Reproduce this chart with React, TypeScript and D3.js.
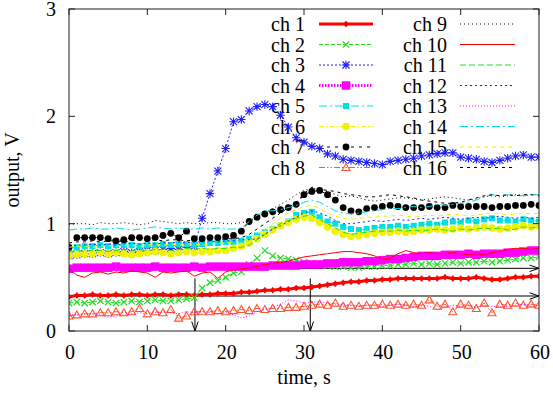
import React from 'react';
import * as d3 from 'd3';

// sampling grid (s)
const TIMES = d3.range(0, 61, 1);
const X_TICKS = [0, 10, 20, 30, 40, 50, 60];
const Y_TICKS = [0, 1, 2, 3];

const CH1 = [0.32,0.33,0.33,0.34,0.33,0.33,0.34,0.33,0.34,0.34,0.33,0.34,0.34,0.33,0.34,0.34,0.33,
  0.34,0.34,0.35,0.35,0.35,0.36,0.36,0.37,0.38,0.38,0.39,0.39,0.40,0.40,
  0.41,0.42,0.43,0.44,0.45,0.46,0.46,0.47,0.47,0.48,0.48,0.49,0.49,0.49,0.49,
  0.49,0.49,0.50,0.49,0.49,0.49,0.50,0.49,0.48,0.48,0.49,0.50,0.50,0.51,0.51];
const CH2 = [0.26,0.27,0.26,0.27,0.28,0.27,0.26,0.27,0.28,0.27,0.28,0.29,0.28,0.28,0.29,0.30,
  0.31,0.40,0.45,0.47,0.50,0.54,0.55,0.62,0.68,0.75,0.70,0.68,0.67,0.66,0.64,
  0.63,0.62,0.61,0.60,0.60,0.59,0.59,0.60,0.60,0.61,0.61,0.62,0.62,0.63,0.62,
  0.63,0.62,0.63,0.64,0.63,0.64,0.64,0.65,0.64,0.65,0.66,0.67,0.68,0.68,0.69];
const CH3 = [0.70,0.71,0.72,0.72,0.73,0.72,0.73,0.74,0.73,0.74,0.75,0.75,0.76,0.77,0.76,0.78,0.79,
  1.05,1.28,1.49,1.70,1.95,1.97,2.05,2.09,2.11,2.09,2.01,1.90,1.80,1.76,
  1.72,1.70,1.65,1.63,1.60,1.59,1.58,1.57,1.56,1.55,1.58,1.59,1.60,1.61,1.63,
  1.64,1.65,1.66,1.66,1.62,1.61,1.60,1.58,1.57,1.59,1.61,1.63,1.64,1.62,1.62];
const CH4 = [0.58,0.59,0.59,0.59,0.59,0.59,0.60,0.59,0.59,0.59,0.59,0.60,0.59,0.59,0.59,0.59,0.60,0.59,0.60,0.60,0.60,
  0.60,0.60,0.60,0.60,0.60,0.61,0.61,0.61,0.61,0.62,0.62,0.62,0.63,0.63,0.64,0.64,0.64,0.65,0.65,0.66,
  0.67,0.67,0.68,0.69,0.70,0.70,0.70,0.71,0.71,0.71,0.72,0.71,0.72,0.72,0.72,0.73,0.73,0.74,0.75,0.75];
const CH5 = [0.77,0.78,0.79,0.79,0.80,0.79,0.80,0.80,0.80,0.79,0.80,0.80,0.81,0.80,0.81,0.81,0.80,0.81,0.82,0.82,0.83,
  0.83,0.84,0.86,0.89,0.92,0.95,0.98,1.02,1.08,1.10,1.11,1.06,1.02,1.00,0.97,0.95,0.94,0.95,0.96,0.97,
  0.97,0.98,0.97,0.98,0.99,1.00,0.99,1.01,1.02,1.01,1.03,1.02,1.04,1.05,1.03,1.03,1.02,1.04,1.03,1.02];
const CH6 = [0.70,0.71,0.72,0.72,0.73,0.72,0.73,0.72,0.71,0.72,0.73,0.74,0.73,0.72,0.73,0.74,0.73,0.74,0.74,0.75,0.75,
  0.77,0.79,0.82,0.86,0.90,0.94,0.98,1.01,1.04,1.06,1.05,1.01,0.97,0.93,0.90,0.88,0.89,0.90,0.91,0.92,
  0.92,0.93,0.92,0.93,0.94,0.94,0.95,0.94,0.95,0.96,0.95,0.96,0.97,0.96,0.95,0.96,0.97,0.98,0.97,0.98];
const CH7 = [0.78,0.87,0.87,0.87,0.87,0.86,0.84,0.85,0.87,0.87,0.86,0.87,0.89,0.91,0.87,0.93,0.86,0.86,0.87,0.87,0.88,
  0.89,0.93,1.02,1.06,1.09,1.11,1.13,1.15,1.18,1.27,1.30,1.31,1.27,1.22,1.15,1.12,1.11,1.14,1.15,1.16,
  1.17,1.16,1.15,1.15,1.15,1.16,1.15,1.15,1.17,1.16,1.16,1.16,1.16,1.15,1.16,1.16,1.17,1.17,1.18,1.17];
const CH8 = [0.14,0.15,0.16,0.16,0.17,0.17,0.18,0.17,0.18,0.21,0.16,0.18,0.17,0.20,0.12,0.14,0.18,0.18,0.18,0.19,0.18,
  0.19,0.20,0.19,0.21,0.20,0.21,0.21,0.22,0.22,0.23,0.24,0.25,0.24,0.26,0.23,0.24,0.23,0.24,0.24,0.25,
  0.24,0.25,0.24,0.25,0.24,0.29,0.23,0.25,0.18,0.25,0.24,0.21,0.26,0.17,0.25,0.24,0.26,0.24,0.25,0.24];
const CH9 = [0.99,1.00,1.00,0.99,1.01,1.00,1.00,1.01,1.00,0.99,1.00,1.03,1.02,1.01,1.00,1.01,1.00,1.00,1.01,1.01,1.00,
  1.00,1.01,1.02,1.06,1.10,1.14,1.18,1.22,1.27,1.31,1.33,1.32,1.30,1.27,1.25,1.26,1.24,1.22,1.21,1.22,
  1.23,1.24,1.24,1.23,1.22,1.23,1.24,1.25,1.24,1.23,1.22,1.23,1.25,1.26,1.25,1.26,1.27,1.26,1.27,1.27];
const CH10 = [0.58,0.52,0.50,0.54,0.55,0.53,0.55,0.54,0.56,0.55,0.54,0.50,0.55,0.54,0.55,0.56,0.51,0.54,0.55,0.49,0.55,
  0.57,0.58,0.59,0.60,0.62,0.63,0.64,0.65,0.67,0.69,0.70,0.71,0.72,0.73,0.74,0.74,0.73,0.72,0.70,0.67,
  0.68,0.72,0.75,0.73,0.72,0.73,0.72,0.72,0.73,0.72,0.71,0.72,0.71,0.73,0.74,0.76,0.77,0.77,0.76,0.77];
const CH11 = [0.74,0.75,0.74,0.75,0.75,0.74,0.75,0.76,0.75,0.76,0.75,0.76,0.76,0.75,0.76,0.77,0.76,0.77,0.76,0.77,0.77,
  0.78,0.78,0.80,0.85,0.90,0.95,1.00,1.03,1.05,1.07,1.08,1.04,1.00,0.96,0.92,0.90,0.91,0.92,0.93,0.93,
  0.93,0.94,0.93,0.94,0.93,0.94,0.95,0.94,0.93,0.95,0.94,0.95,0.96,0.95,0.96,0.94,0.95,0.97,0.96,0.97];
const CH12 = [0.79,0.80,0.80,0.81,0.80,0.81,0.80,0.81,0.82,0.81,0.82,0.81,0.82,0.82,0.83,0.82,0.83,0.83,0.84,0.83,0.84,
  0.84,0.85,0.85,0.86,0.90,0.95,0.98,1.02,1.06,1.10,1.12,1.10,1.07,1.03,1.00,1.00,1.01,1.02,1.03,1.02,
  1.03,1.04,1.03,1.04,1.05,1.04,1.05,1.06,1.05,1.04,1.05,1.06,1.05,1.06,1.07,1.06,1.05,1.06,1.05,1.06];
const CH13 = [0.15,0.15,0.16,0.16,0.15,0.13,0.14,0.15,0.16,0.17,0.16,0.17,0.18,0.17,0.16,0.18,0.17,0.18,0.17,0.16,0.17,
  0.15,0.12,0.14,0.18,0.20,0.22,0.25,0.29,0.28,0.26,0.27,0.27,0.26,0.25,0.25,0.24,0.23,0.24,0.24,0.23,
  0.24,0.25,0.24,0.23,0.24,0.23,0.20,0.22,0.24,0.23,0.24,0.22,0.24,0.23,0.22,0.23,0.24,0.25,0.23,0.24];
const CH14 = [0.94,0.95,0.95,0.96,0.95,0.95,0.96,0.95,0.94,0.95,0.96,0.97,0.96,0.95,0.96,0.95,0.95,0.96,0.95,0.96,0.95,
  0.95,0.96,1.02,1.08,1.12,1.12,1.13,1.15,1.17,1.20,1.22,1.20,1.16,1.12,1.10,1.09,1.10,1.11,1.12,1.13,
  1.14,1.14,1.15,1.16,1.15,1.16,1.18,1.17,1.18,1.19,1.20,1.22,1.25,1.27,1.26,1.27,1.26,1.26,1.27,1.27];
const CH15 = [0.78,0.79,0.79,0.78,0.79,0.80,0.79,0.80,0.80,0.79,0.80,0.81,0.80,0.81,0.80,0.81,0.81,0.80,0.81,0.82,0.82,
  0.83,0.84,0.86,0.90,0.95,1.00,1.05,1.10,1.13,1.16,1.17,1.14,1.10,1.07,1.05,1.04,1.05,1.06,1.06,1.07,
  1.07,1.08,1.07,1.06,1.07,1.08,1.07,1.08,1.09,1.08,1.07,1.08,1.09,1.10,1.09,1.08,1.09,1.10,1.09,1.10];
const CH16 = [0.82,0.83,0.83,0.84,0.83,0.84,0.84,0.83,0.84,0.85,0.84,0.85,0.84,0.85,0.85,0.84,0.85,0.85,0.86,0.85,0.86,
  0.86,0.87,0.90,0.95,1.00,1.05,1.10,1.15,1.20,1.28,1.34,1.32,1.31,1.30,1.28,1.27,1.26,1.25,1.25,1.26,
  1.27,1.26,1.25,1.24,1.22,1.21,1.20,1.19,1.19,1.20,1.22,1.24,1.26,1.27,1.26,1.27,1.26,1.27,1.27,1.26];

const NAMES = ['ch 1','ch 2','ch 3','ch 4','ch 5','ch 6','ch 7','ch 8','ch 9','ch 10','ch 11','ch 12','ch 13','ch 14','ch 15','ch 16'];
const VALUES = [CH1,CH2,CH3,CH4,CH5,CH6,CH7,CH8,CH9,CH10,CH11,CH12,CH13,CH14,CH15,CH16];

// arrows: [t0, v0, t1, v1]
const ARROWS = [
  [0, 0.584, 60, 0.584],
  [0, 0.326, 60, 0.326],
  [16.08, 0.49, 16.08, 0],
  [30.8, 0.49, 30.8, 0],
];

type Style = { color: string; width: number; dash: string; marker: string; size: number };
const STYLES: Style[] = [
  { color: '#ff0000', width: 3, dash: '', marker: 'plusdot', size: 3 },
  { color: '#22dd22', width: 1, dash: '4,2', marker: 'x', size: 3.2 },
  { color: '#2020ff', width: 1, dash: '2,2', marker: 'star', size: 3.5 },
  { color: '#ff00ff', width: 3, dash: '1.5,1.5', marker: 'square', size: 8.5 },
  { color: '#00e0e0', width: 1, dash: '8,3,2,3', marker: 'square', size: 6 },
  { color: '#f2f200', width: 1, dash: '5,2,1.5,2', marker: 'circle', size: 3.8 },
  { color: '#000000', width: 1, dash: '3,5', marker: 'circle', size: 3.4 },
  { color: '#ff5530', width: 1, dash: '6,2,1.5,2,1.5,2', marker: 'tri', size: 4 },
  { color: '#000000', width: 1, dash: '1,3', marker: '', size: 0 },
  { color: '#ff0000', width: 1, dash: '', marker: '', size: 0 },
  { color: '#22dd22', width: 1, dash: '6,3', marker: '', size: 0 },
  { color: '#2020ff', width: 1, dash: '2,3', marker: '', size: 0 },
  { color: '#ff00ff', width: 1, dash: '1,2', marker: '', size: 0 },
  { color: '#00e0e0', width: 1, dash: '8,3,2,3', marker: '', size: 0 },
  { color: '#f2f200', width: 1, dash: '4,4', marker: '', size: 0 },
  { color: '#000000', width: 1, dash: '3,4', marker: '', size: 0 },
];

const W = 553, H = 394;
const L = 69, R = 539, T = 9, B = 331;
const FONT = 'Liberation Serif, Times New Roman, Times, DejaVu Serif, serif';
const TXT: React.CSSProperties = { fontFamily: FONT, fontSize: '20px' };

function Marker({ kind, x, y, s, color }: { kind: string; x: number; y: number; s: number; color: string }) {
  switch (kind) {
    case 'plusdot':
      return (
        <g>
          <path d={`M${x - s},${y}L${x + s},${y}M${x},${y - s}L${x},${y + s}`} stroke={color} strokeWidth={1.5} />
          <circle cx={x} cy={y} r={s * 0.75} fill={color} />
        </g>
      );
    case 'x':
      return <path d={`M${x - s},${y - s}L${x + s},${y + s}M${x - s},${y + s}L${x + s},${y - s}`} stroke={color} strokeWidth={1.2} fill="none" />;
    case 'star':
      return <path d={`M${x - s},${y - s}L${x + s},${y + s}M${x - s},${y + s}L${x + s},${y - s}M${x - s * 1.2},${y}L${x + s * 1.2},${y}M${x},${y - s * 1.2}L${x},${y + s * 1.2}`} stroke={color} strokeWidth={1.1} fill="none" />;
    case 'square':
      return <rect x={x - s / 2} y={y - s / 2} width={s} height={s} fill={color} />;
    case 'circle':
      return <circle cx={x} cy={y} r={s} fill={color} />;
    case 'tri':
      return <path d={`M${x},${y - s}L${x + s},${y + s * 0.75}L${x - s},${y + s * 0.75}Z`} stroke={color} strokeWidth={1.1} fill="none" />;
    default:
      return null;
  }
}

export default function App() {
  const x = d3.scaleLinear().domain([0, 60]).range([L, R]);
  const y = d3.scaleLinear().domain([0, 3]).range([B, T]);
  const line = d3.line<number>().x((_, i) => x(TIMES[i])).y((v) => y(v));

  const arrowHead = (x1: number, y1: number, x2: number, y2: number) => {
    const a = Math.atan2(y2 - y1, x2 - x1);
    const len = 10, spread = 0.33;
    const p1 = [x2 - len * Math.cos(a - spread), y2 - len * Math.sin(a - spread)];
    const p2 = [x2 - len * Math.cos(a + spread), y2 - len * Math.sin(a + spread)];
    return `M${p1[0]},${p1[1]}L${x2},${y2}L${p2[0]},${p2[1]}`;
  };

  return (
    <svg width={W} height={H} style={{ position: 'absolute', left: 0, top: 0, background: '#fff' }}>
      <defs>
        <clipPath id="plotclip">
          <rect x={L} y={T} width={R - L} height={B - T} />
        </clipPath>
      </defs>
      <rect x={0} y={0} width={W} height={H} fill="#fff" />

      {/* arrows (behind data) */}
      <g stroke="#000" strokeWidth={1} fill="none">
        {ARROWS.map((a, i) => {
          const x1 = x(a[0]), y1 = y(a[1]), x2 = x(a[2]), y2 = y(a[3]);
          return (
            <g key={i}>
              <line x1={x1} y1={y1} x2={x2} y2={y2} />
              <path d={arrowHead(x1, y1, x2, y2)} />
            </g>
          );
        })}
      </g>

      {/* legend */}
      {NAMES.map((n, i) => {
        const col = i < 8 ? 0 : 1;
        const row = i % 8;
        const cy = 24 + row * 20.5;
        const tx = col === 0 ? 305 : 447;
        const sx1 = col === 0 ? 319 : 460;
        const sx2 = col === 0 ? 373 : 515;
        const st = STYLES[i];
        return (
          <g key={n}>
            <text x={tx} y={cy + 7} style={TXT} textAnchor="end" fill="#000">{n}</text>
            <line x1={sx1} y1={cy} x2={sx2} y2={cy} stroke={st.color} strokeWidth={st.width} strokeDasharray={st.dash || undefined} />
            {st.marker && <Marker kind={st.marker} x={(sx1 + sx2) / 2} y={cy} s={st.size} color={st.color} />}
          </g>
        );
      })}

      {/* series */}
      <g clipPath="url(#plotclip)">
        {VALUES.map((vals, i) => {
          const st = STYLES[i];
          return (
            <g key={i}>
              <path d={line(vals) || ''} fill="none" stroke={st.color} strokeWidth={st.width} strokeDasharray={st.dash || undefined} />
              {st.marker && vals.map((v, j) => (
                <Marker key={j} kind={st.marker} x={x(TIMES[j])} y={y(v)} s={st.size} color={st.color} />
              ))}
            </g>
          );
        })}
      </g>

      {/* border */}
      <rect x={L} y={T} width={R - L} height={B - T} fill="none" stroke="#222" strokeWidth={1} />

      {/* ticks */}
      <g stroke="#222" strokeWidth={1}>
        {X_TICKS.map((t) => (
          <g key={'x' + t}>
            <line x1={x(t)} x2={x(t)} y1={B} y2={B - 6} />
            <line x1={x(t)} x2={x(t)} y1={T} y2={T + 6} />
          </g>
        ))}
        {Y_TICKS.map((t) => (
          <g key={'y' + t}>
            <line x1={L} x2={L + 6} y1={y(t)} y2={y(t)} />
            <line x1={R} x2={R - 6} y1={y(t)} y2={y(t)} />
          </g>
        ))}
      </g>

      {/* tick labels */}
      {X_TICKS.map((t) => (
        <text key={'xl' + t} x={x(t) + 1} y={359} style={TXT} textAnchor="middle" fill="#000">{t}</text>
      ))}
      {Y_TICKS.map((t) => (
        <text key={'yl' + t} x={56} y={y(t) + 7} style={TXT} textAnchor="end" fill="#000">{t}</text>
      ))}

      {/* axis titles */}
      <text x={(L + R) / 2} y={384} style={TXT} textAnchor="middle" fill="#000">time, s</text>
      <text transform={`translate(19,${(T + B) / 2}) rotate(-90)`} style={TXT} textAnchor="middle" fill="#000">output, V</text>
    </svg>
  );
}
